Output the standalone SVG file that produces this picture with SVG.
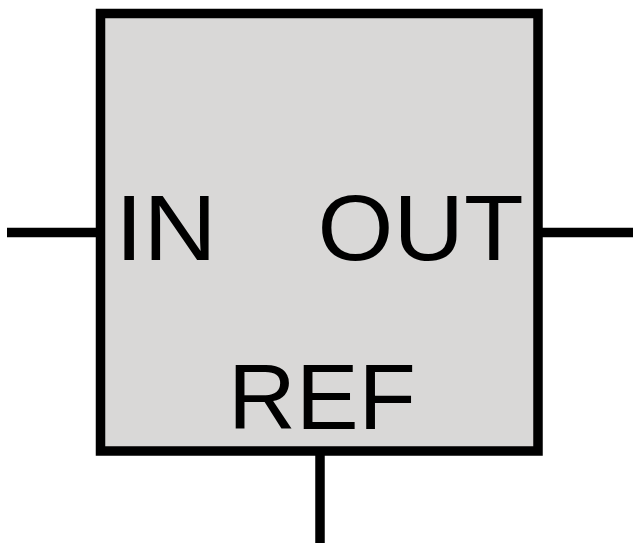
<svg xmlns="http://www.w3.org/2000/svg" width="640" height="550" viewBox="0 0 640 550">
<style>
.wire{stroke:#000;stroke-width:9.5;fill:none}
.box{fill:#d9d8d7;stroke:#000;stroke-width:9.5}
.lbl{font-family:"Liberation Sans",Arial,sans-serif;font-size:92px;fill:#000;text-anchor:middle}
</style>
<rect width="640" height="550" fill="#fff"/>
<g id="connectors">
<line class="wire" x1="7" y1="232.5" x2="100" y2="232.5"/>
<line class="wire" x1="538" y1="232.5" x2="633" y2="232.5"/>
<line class="wire" x1="320" y1="451" x2="320" y2="543"/>
</g>
<g id="block">
<rect class="box" x="100.5" y="13.5" width="437.5" height="437.5"/>
<text class="lbl" x="166" y="260" textLength="102" lengthAdjust="spacingAndGlyphs">IN</text>
<text class="lbl" x="420.5" y="260" textLength="206" lengthAdjust="spacingAndGlyphs">OUT</text>
<text class="lbl" x="322" y="429" textLength="188" lengthAdjust="spacingAndGlyphs">REF</text>
</g>
</svg>
